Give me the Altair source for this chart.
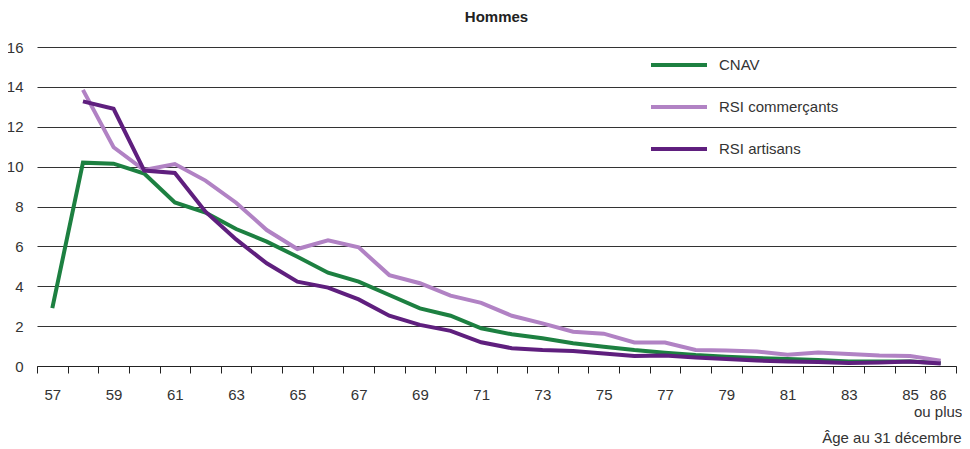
import altair as alt
import pandas as pd

ages = list(range(57, 87))
cnav = [2.9, 10.2, 10.15, 9.65, 8.2, 7.7, 6.87, 6.24, 5.48, 4.68,
        4.23, 3.56, 2.89, 2.52, 1.89, 1.59, 1.39, 1.14, 0.97, 0.8,
        0.67, 0.55, 0.47, 0.4, 0.35, 0.3, 0.23, 0.23, 0.22, 0.15]
commercants = [None, 13.85, 10.97, 9.83, 10.13, 9.3, 8.19, 6.82, 5.87, 6.3,
               5.95, 4.56, 4.15, 3.53, 3.17, 2.52, 2.14, 1.72, 1.62, 1.18,
               1.18, 0.8, 0.78, 0.73, 0.57, 0.68, 0.6, 0.53, 0.5, 0.27]
artisans = [None, 13.27, 12.9, 9.8, 9.68, 7.74, 6.35, 5.15, 4.23, 3.93,
            3.34, 2.52, 2.06, 1.76, 1.19, 0.89, 0.8, 0.75, 0.63, 0.5,
            0.53, 0.43, 0.35, 0.27, 0.22, 0.2, 0.15, 0.18, 0.23, 0.13]

series_names = ["CNAV", "RSI commerçants", "RSI artisans"]
series_colors = ["#1d8041", "#b182c4", "#5f1f7e"]

rows = []
for name, vals in zip(series_names, [cnav, commercants, artisans]):
    for a, v in zip(ages, vals):
        if v is not None:
            rows.append({"age": a, "valeur": v, "serie": name})
df = pd.DataFrame(rows)

FONT = "Liberation Sans, Arial, sans-serif"
FS = 15

chart = alt.Chart(df).mark_line(strokeWidth=4, strokeJoin="miter").encode(
    x=alt.X("age:O", bandPosition=0.5,
            scale=alt.Scale(type="band", domain=ages, paddingInner=0, paddingOuter=0),
            axis=alt.Axis(
                title="Âge au 31 décembre",
                titleFont=FONT, titleFontSize=FS, titleFontWeight="normal",
                titleColor="#333333", titleAnchor="end", titleAlign="right",
                titleBaseline="middle", titleX=924, titleY=71, titleAngle=0,
                labelExpr="datum.value == 86 ? ['86', 'ou plus'] : (datum.value % 2 == 1 ? datum.label : '')",
                labelFont=FONT, labelFontSize=FS, labelColor="#333333",
                labelAngle=0, labelPadding=14, labelOverlap=False,
                labelLineHeight=17,
                labelOffset={"condition": {"test": "datum.value == 86", "value": -3}, "value": 0},
                tickBand="extent", tickSize=7, tickColor="#222222",
                domainColor="#222222", domainWidth=1, grid=False,
            )),
    y=alt.Y("valeur:Q",
            scale=alt.Scale(domain=[0, 16], nice=False, zero=True),
            axis=alt.Axis(
                title=None, values=list(range(0, 17, 2)),
                labelFont=FONT, labelFontSize=FS, labelColor="#333333",
                labelPadding=14, ticks=False, domain=False,
                grid=True, gridColor="#333333", gridWidth=1,
            )),
    color=alt.Color("serie:N",
                    scale=alt.Scale(domain=series_names, range=series_colors),
                    legend=alt.Legend(
                        title=None, orient="none", legendX=612, legendY=-12,
                        symbolType="stroke", symbolSize=3136, symbolStrokeWidth=4,
                        labelFont=FONT, labelFontSize=FS, labelColor="#333333",
                        labelOffset=10, rowPadding=4, padding=0,
                    )),
    order=alt.Order("age:O"),
).properties(
    width=919, height=319,
    title=alt.TitleParams("Hommes", font=FONT, fontSize=FS, fontWeight="bold",
                          color="#222222", anchor="middle", offset=10),
    autosize=alt.AutoSizeParams(type="none"),
    padding={"left": 29, "top": 39, "right": 6, "bottom": 90},
).configure_view(stroke=None)

chart.save("out.html", embed_options={"renderer": "svg", "actions": False})
